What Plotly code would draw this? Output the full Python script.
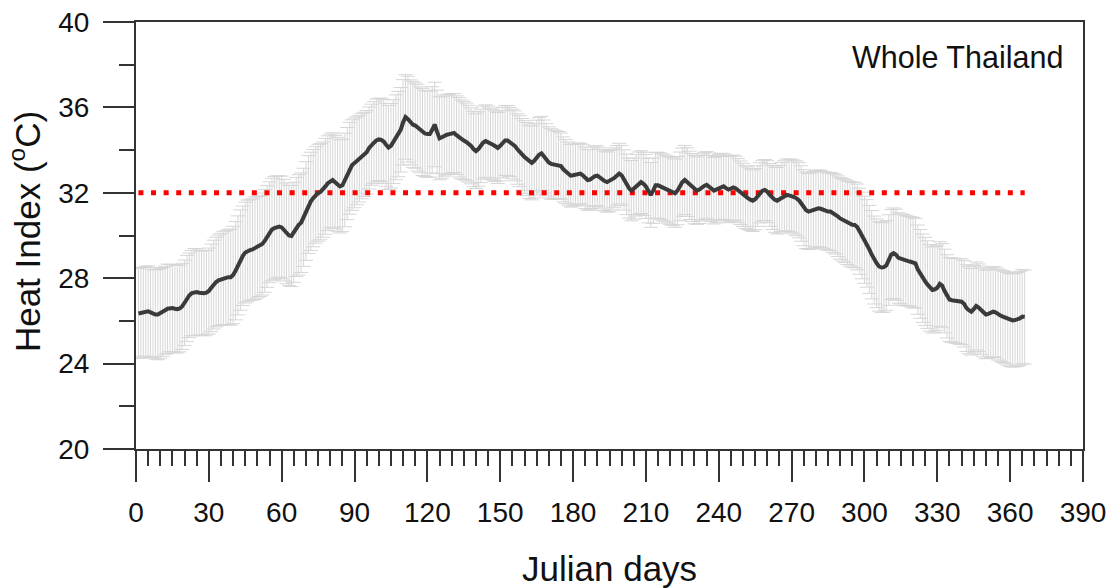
import plotly.graph_objects as go

###############################################################################
# Data: daily mean heat index and error-bar half widths
days = list(range(1, 367))

heat_index = [
    26.35, 26.38, 26.42, 26.45, 26.45, 26.40, 26.33, 26.30, 26.30, 26.35,
    26.42, 26.50, 26.57, 26.60, 26.60, 26.57, 26.55, 26.58, 26.68, 26.85,
    27.05, 27.20, 27.30, 27.35, 27.35, 27.32, 27.30, 27.30, 27.32, 27.40,
    27.55, 27.70, 27.82, 27.90, 27.95, 28.00, 28.02, 28.05, 28.05, 28.15,
    28.35, 28.60, 28.85, 29.05, 29.20, 29.28, 29.32, 29.35, 29.40, 29.45,
    29.50, 29.60, 29.75, 29.95, 30.15, 30.28, 30.35, 30.40, 30.42, 30.38,
    30.25, 30.10, 30.00, 29.98, 30.15, 30.40, 30.50, 30.60, 30.85, 31.15,
    31.45, 31.60, 31.75, 31.90, 32.00, 32.05, 32.15, 32.30, 32.45, 32.55,
    32.60, 32.50, 32.40, 32.30, 32.35, 32.60, 32.90, 33.15, 33.30, 33.40,
    33.50, 33.60, 33.72, 33.80, 33.90, 34.10, 34.25, 34.35, 34.45, 34.50,
    34.48, 34.40, 34.25, 34.12, 34.20, 34.40, 34.60, 34.75, 34.95, 35.30,
    35.55, 35.45, 35.30, 35.20, 35.15, 35.05, 34.95, 34.85, 34.78, 34.75,
    34.75, 34.95, 35.20, 34.85, 34.55, 34.60, 34.68, 34.72, 34.75, 34.78,
    34.80, 34.70, 34.60, 34.50, 34.45, 34.38, 34.30, 34.20, 34.05, 33.95,
    34.05, 34.20, 34.35, 34.42, 34.38, 34.30, 34.25, 34.18, 34.10, 34.20,
    34.35, 34.45, 34.45, 34.38, 34.28, 34.20, 34.05, 33.95, 33.80, 33.68,
    33.58, 33.45, 33.40, 33.50, 33.65, 33.78, 33.85, 33.70, 33.55, 33.42,
    33.35, 33.32, 33.30, 33.30, 33.25, 33.10, 33.00, 32.90, 32.80, 32.82,
    32.85, 32.90, 32.90, 32.82, 32.70, 32.60, 32.62, 32.70, 32.78, 32.80,
    32.70, 32.60, 32.55, 32.50, 32.55, 32.62, 32.70, 32.80, 32.90, 32.82,
    32.60, 32.40, 32.22, 32.10, 32.20, 32.35, 32.45, 32.50, 32.42, 32.30,
    32.10, 31.90, 32.10, 32.35, 32.35, 32.30, 32.25, 32.20, 32.15, 32.10,
    32.05, 31.98, 32.10, 32.30, 32.50, 32.60, 32.50, 32.35, 32.25, 32.15,
    32.10, 32.15, 32.25, 32.32, 32.37, 32.30, 32.20, 32.10, 32.15, 32.25,
    32.30, 32.30, 32.22, 32.15, 32.20, 32.25, 32.20, 32.10, 32.00, 31.90,
    31.80, 31.75, 31.68, 31.63, 31.70, 31.85, 32.00, 32.10, 32.13, 32.05,
    31.90, 31.78, 31.68, 31.63, 31.70, 31.80, 31.85, 31.90, 31.88, 31.85,
    31.80, 31.74, 31.65, 31.50, 31.30, 31.18, 31.12, 31.15, 31.20, 31.25,
    31.27, 31.25, 31.20, 31.15, 31.12, 31.12, 31.05, 31.00, 30.90, 30.80,
    30.73, 30.68, 30.60, 30.55, 30.50, 30.49, 30.40, 30.20, 30.00, 29.80,
    29.63, 29.35, 29.10, 28.85, 28.70, 28.55, 28.50, 28.52, 28.60, 28.85,
    29.10, 29.17, 29.10, 28.95, 28.90, 28.85, 28.83, 28.80, 28.77, 28.73,
    28.70, 28.40, 28.20, 28.00, 27.85, 27.70, 27.55, 27.45, 27.48, 27.55,
    27.73, 27.65, 27.40, 27.15, 27.00, 26.97, 26.95, 26.93, 26.92, 26.90,
    26.80, 26.60, 26.50, 26.43, 26.55, 26.70, 26.62, 26.50, 26.40, 26.30,
    26.33, 26.38, 26.43, 26.40, 26.30, 26.25, 26.20, 26.15, 26.10, 26.04,
    26.02, 26.04, 26.07, 26.12, 26.20, 26.18,
]

heat_index_sd = [
    2.10, 2.12, 2.08, 2.10, 2.13, 2.11, 2.07, 2.09, 2.12, 2.10,
    2.08, 2.06, 2.09, 2.05, 2.04, 2.07, 2.05, 2.03, 2.02, 2.00,
    2.02, 1.98, 2.00, 2.04, 2.03, 1.99, 1.97, 2.00, 1.98, 2.01,
    2.05, 2.08, 2.10, 2.12, 2.15, 2.18, 2.20, 2.22, 2.25, 2.28,
    2.30, 2.32, 2.35, 2.33, 2.36, 2.38, 2.35, 2.37, 2.40, 2.38,
    2.36, 2.39, 2.41, 2.38, 2.36, 2.40, 2.42, 2.39, 2.37, 2.40,
    2.38, 2.36, 2.35, 2.37, 2.34, 2.32, 2.35, 2.33, 2.30, 2.31,
    2.29, 2.30, 2.28, 2.26, 2.27, 2.25, 2.23, 2.24, 2.22, 2.20,
    2.21, 2.19, 2.20, 2.18, 2.17, 2.19, 2.16, 2.15, 2.12, 2.10,
    2.06, 2.03, 2.00, 1.97, 1.95, 1.92, 1.90, 1.92, 1.94, 1.93,
    1.95, 1.96, 1.94, 1.97, 1.98, 1.96, 1.99, 2.00, 1.98, 2.00,
    1.98, 2.01, 1.99, 2.02, 2.00, 2.03, 2.01, 2.04, 2.02, 2.03,
    2.01, 2.02, 1.98, 1.96, 1.94, 1.92, 1.90, 1.88, 1.87, 1.86,
    1.85, 1.84, 1.86, 1.85, 1.83, 1.82, 1.80, 1.78, 1.77, 1.75,
    1.74, 1.72, 1.71, 1.70, 1.68, 1.67, 1.66, 1.65, 1.66, 1.64,
    1.65, 1.63, 1.64, 1.62, 1.63, 1.64, 1.65, 1.66, 1.68, 1.70,
    1.71, 1.72, 1.73, 1.74, 1.75, 1.74, 1.73, 1.71, 1.69, 1.67,
    1.65, 1.62, 1.60, 1.57, 1.55, 1.52, 1.50, 1.48, 1.47, 1.45,
    1.44, 1.43, 1.42, 1.43, 1.44, 1.42, 1.41, 1.43, 1.42, 1.40,
    1.41, 1.42, 1.40, 1.41, 1.43, 1.42, 1.40, 1.41, 1.42, 1.40,
    1.41, 1.42, 1.40, 1.41, 1.43, 1.44, 1.46, 1.47, 1.48, 1.50,
    1.51, 1.52, 1.53, 1.54, 1.55, 1.56, 1.57, 1.56, 1.57, 1.58,
    1.59, 1.60, 1.60, 1.61, 1.60, 1.62, 1.61, 1.60, 1.59, 1.60,
    1.58, 1.59, 1.57, 1.58, 1.56, 1.57, 1.55, 1.56, 1.55, 1.54,
    1.55, 1.54, 1.53, 1.55, 1.54, 1.52, 1.51, 1.50, 1.49, 1.48,
    1.47, 1.46, 1.45, 1.44, 1.43, 1.42, 1.41, 1.42, 1.43, 1.45,
    1.47, 1.50, 1.53, 1.56, 1.59, 1.62, 1.65, 1.68, 1.70, 1.72,
    1.73, 1.75, 1.76, 1.77, 1.78, 1.79, 1.78, 1.79, 1.80, 1.79,
    1.80, 1.81, 1.80, 1.82, 1.81, 1.83, 1.85, 1.87, 1.89, 1.91,
    1.93, 1.95, 1.96, 1.98, 1.99, 2.00, 2.01, 2.02, 2.03, 2.04,
    2.05, 2.06, 2.07, 2.06, 2.08, 2.09, 2.10, 2.11, 2.10, 2.12,
    2.11, 2.12, 2.13, 2.12, 2.11, 2.13, 2.12, 2.10, 2.11, 2.12,
    2.10, 2.09, 2.08, 2.07, 2.06, 2.05, 2.03, 2.02, 2.00, 1.99,
    1.98, 1.97, 1.96, 1.95, 1.96, 1.97, 1.98, 1.99, 2.00, 2.01,
    2.02, 2.03, 2.04, 2.03, 2.05, 2.06, 2.05, 2.07, 2.08, 2.07,
    2.09, 2.10, 2.11, 2.12, 2.13, 2.14, 2.15, 2.16, 2.17, 2.18,
    2.18, 2.19, 2.20, 2.20, 2.21, 2.20,
]

threshold = 32
threshold_days = [days[0], days[-1]]

x_ticks = [0, 30, 60, 90, 120, 150, 180, 210, 240, 270, 300, 330, 360, 390]
y_ticks = [20, 24, 28, 32, 36, 40]

###############################################################################

FONT = 'Liberation Sans, Arial, sans-serif'
AXIS_COLOR = '#333333'
TEXT_COLOR = '#111111'

fig = go.Figure()

# Error bars (drawn first, behind the mean line)
fig.add_trace(go.Scatter(x=days, y=heat_index,
                         mode='markers',
                         marker=dict(size=1, color='rgba(0,0,0,0)'),
                         error_y=dict(type='data', array=heat_index_sd, visible=True,
                                      color='#d6d6d6', thickness=1, width=7),
                         hoverinfo='skip', showlegend=False))

# Threshold line
fig.add_trace(go.Scatter(x=threshold_days, y=[threshold, threshold],
                         mode='lines',
                         line=dict(color='#ff0000', width=5, dash='5px,7.6px'),
                         hoverinfo='skip', showlegend=False))

# Mean line
fig.add_trace(go.Scatter(x=days, y=heat_index,
                         mode='lines',
                         line=dict(color='#3a3a3a', width=4),
                         showlegend=False))

# Label in the upper right corner
fig.add_annotation(x=0.981, y=0.918, xref='paper', yref='paper',
                   xanchor='right', yanchor='middle', showarrow=False,
                   text='Whole Thailand', font=dict(family=FONT, size=30.5, color=TEXT_COLOR))

# Axis titles as annotations so they sit exactly where they should
fig.add_annotation(x=0.5, y=-0.279, xref='paper', yref='paper',
                   xanchor='center', yanchor='middle', showarrow=False,
                   text='Julian days', font=dict(family=FONT, size=35, color=TEXT_COLOR))
fig.add_annotation(x=-0.1172, y=0.508, xref='paper', yref='paper',
                   xanchor='center', yanchor='middle', showarrow=False, textangle=-90,
                   text='Heat Index (<sup>o</sup>C)', font=dict(family=FONT, size=35, color=TEXT_COLOR))

fig.update_xaxes(range=[0, 390], tickvals=x_ticks, ticks='outside', ticklen=31,
                 tickwidth=1.5, tickcolor=AXIS_COLOR, showline=True, linewidth=2,
                 linecolor=AXIS_COLOR, mirror=True, showgrid=False, zeroline=False,
                 minor=dict(dtick=5, tick0=0, ticks='outside', ticklen=15,
                            tickwidth=1.5, tickcolor=AXIS_COLOR, showgrid=False),
                 ticklabelstandoff=6, automargin=False, ticklabeloverflow='allow',
                 tickfont=dict(family=FONT, size=28, color=TEXT_COLOR))

fig.update_yaxes(range=[20, 40], tickvals=y_ticks, ticks='outside', ticklen=31,
                 tickwidth=1.5, tickcolor=AXIS_COLOR, showline=True, linewidth=2,
                 linecolor=AXIS_COLOR, mirror=True, showgrid=False, zeroline=False,
                 minor=dict(dtick=2, tick0=20, ticks='outside', ticklen=15,
                            tickwidth=1.5, tickcolor=AXIS_COLOR, showgrid=False),
                 ticklabelstandoff=8, automargin=False, ticklabeloverflow='allow',
                 tickfont=dict(family=FONT, size=28, color=TEXT_COLOR))

# The page adds an 8 px body margin, so the figure is 8 px smaller and the
# left/top margins 8 px tighter to land the plot area where the original has it
fig.update_layout(width=1106, height=580,
                  margin=dict(l=128, r=31, t=14, b=139),
                  plot_bgcolor='white', paper_bgcolor='white',
                  font=dict(family=FONT))

fig.write_html("out.html")
